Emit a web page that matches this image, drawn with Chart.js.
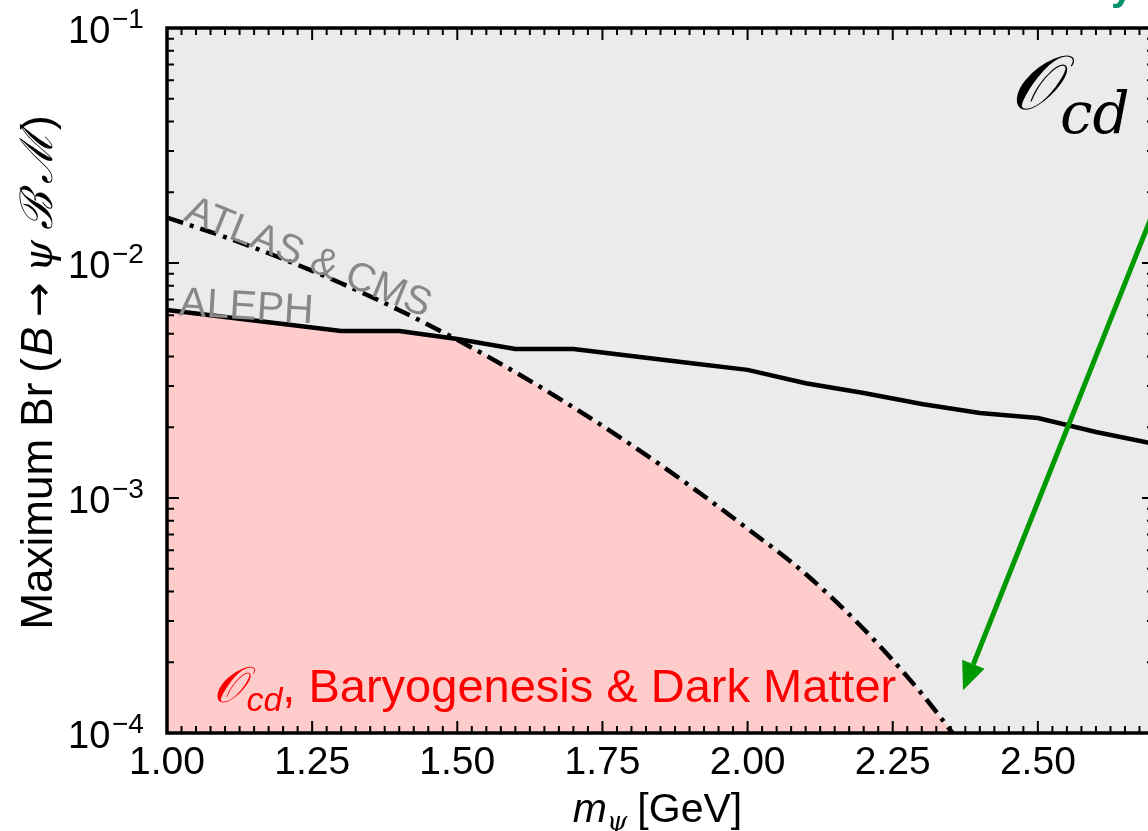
<!DOCTYPE html>
<html>
<head>
<meta charset="utf-8">
<script src="https://cdn.jsdelivr.net/npm/chart.js@4.4.1/dist/chart.umd.min.js"></script>
<style>
    html, body { margin: 0; padding: 0; background: #fff; overflow: hidden; }
    #wrap { width: 1148px; height: 831px; overflow: hidden; }
</style>
</head>
<body>
<div id="wrap"><canvas id="chart" width="1160" height="831"></canvas></div>
<script>
// ALEPH bound (solid line)
const alephMass = [1.0, 1.1, 1.2, 1.3, 1.4, 1.5, 1.6, 1.7, 1.8, 1.9, 2.0, 2.1, 2.2, 2.3, 2.4, 2.5, 2.6, 2.7];
const alephBr = [6.31e-3, 5.89e-3, 5.50e-3, 5.14e-3, 5.14e-3, 4.75e-3, 4.31e-3, 4.31e-3, 4.02e-3,
                 3.75e-3, 3.51e-3, 3.08e-3, 2.80e-3, 2.51e-3, 2.30e-3, 2.19e-3, 1.91e-3, 1.70e-3];

// ATLAS & CMS bound (dash-dot line)
const lhcMass = [1.0, 1.1, 1.2, 1.3, 1.4, 1.5, 1.6, 1.7, 1.8, 1.9, 2.0, 2.1, 2.2, 2.3, 2.353];
const lhcBr = [1.56e-2, 1.29e-2, 1.04e-2, 8.2e-3, 6.3e-3, 4.71e-3, 3.43e-3, 2.43e-3, 1.68e-3,
               1.13e-3, 7.4e-4, 4.75e-4, 2.77e-4, 1.47e-4, 1.0e-4];

// axes
const xTicks = [1.00, 1.25, 1.50, 1.75, 2.00, 2.25, 2.50];
const xTickLabels = ['1.00', '1.25', '1.50', '1.75', '2.00', '2.25', '2.50'];
const yTickExps = [-1, -2, -3, -4];
const yTickLabels = ['\u22121', '\u22122', '\u22123', '\u22124'];

// green arrow (data coords)
const arrowFrom = [2.8, 7.0e-2];
const arrowTo = [2.371, 1.52e-4];

const SANS = '"Liberation Sans", Arial, sans-serif';
const SERIF = '"DejaVu Serif", "Liberation Serif", serif';
const BG = '#ebebeb';

function pts(xs, ys) {
    return xs.map((x, i) => ({ x: x, y: ys[i] }));
}

function drawRich(ctx, parts, x, y) {
    let cx = x;
    parts.forEach(p => {
        ctx.font = p.font;
        ctx.fillText(p.t, cx, y + (p.dy || 0));
        cx += ctx.measureText(p.t).width + (p.gap || 0);
    });
    return cx - x;
}

function richWidth(ctx, parts) {
    let w = 0;
    parts.forEach(p => {
        ctx.font = p.font;
        w += ctx.measureText(p.t).width + (p.gap || 0);
    });
    return w;
}

const decor = {
    id: 'decor',
    beforeDraw(chart) {
        const { ctx, chartArea: a } = chart;
        ctx.save();
        ctx.fillStyle = '#fff';
        ctx.fillRect(0, 0, chart.width, chart.height);
        ctx.fillStyle = BG;
        ctx.fillRect(a.left, a.top, a.right - a.left, a.bottom - a.top);
        ctx.restore();
    },
    afterDatasetsDraw(chart) {
        const { ctx } = chart;
        const sx = chart.scales.x, sy = chart.scales.y;
        ctx.save();

        // annotations
        ctx.fillStyle = '#888';
        ctx.textBaseline = 'alphabetic';
        ctx.save();
        ctx.translate(sx.getPixelForValue(1.027), sy.getPixelForValue(1.53e-2));
        ctx.rotate(22 * Math.PI / 180);
        ctx.font = '40px ' + SANS;
        ctx.fillText('ATLAS & CMS', 0, 0);
        ctx.restore();

        ctx.save();
        ctx.translate(sx.getPixelForValue(1.020), sy.getPixelForValue(6.0e-3));
        ctx.rotate(3.5 * Math.PI / 180);
        ctx.font = '41px ' + SANS;
        ctx.fillText('ALEPH', 0, 0);
        ctx.restore();

        ctx.fillStyle = '#ff0000';
        drawRich(ctx, [
            { t: '\u{1D4AA}', font: 'italic 50px ' + SERIF, gap: 2 },
            { t: 'cd', font: 'italic 34px ' + SANS, dy: 9 },
            { t: ', Baryogenesis & Dark Matter', font: '47px ' + SANS }
        ], sx.getPixelForValue(1.08), sy.getPixelForValue(1.36e-4));

        ctx.fillStyle = '#000';
        drawRich(ctx, [
            { t: '\u{1D4AA}', font: 'italic 76px ' + SERIF, gap: 2 },
            { t: 'cd', font: 'italic 58px ' + SERIF, dy: 24 }
        ], sx.getPixelForValue(2.452), sy.getPixelForValue(4.5e-2));

        // arrow
        const x0 = sx.getPixelForValue(arrowFrom[0]), y0 = sy.getPixelForValue(arrowFrom[1]);
        const x1 = sx.getPixelForValue(arrowTo[0]), y1 = sy.getPixelForValue(arrowTo[1]);
        const ang = Math.atan2(y1 - y0, x1 - x0);
        const hl = 28, hw = 12;
        const bx = x1 - hl * Math.cos(ang), by = y1 - hl * Math.sin(ang);
        ctx.strokeStyle = '#009900';
        ctx.fillStyle = '#009900';
        ctx.lineWidth = 5;
        ctx.beginPath();
        ctx.moveTo(x0, y0);
        ctx.lineTo(bx, by);
        ctx.stroke();
        ctx.beginPath();
        ctx.moveTo(x1, y1);
        ctx.lineTo(bx + hw * Math.sin(ang), by - hw * Math.cos(ang));
        ctx.lineTo(bx - hw * Math.sin(ang), by + hw * Math.cos(ang));
        ctx.closePath();
        ctx.fill();

        ctx.restore();
    },
    afterDraw(chart) {
        const { ctx, chartArea: a } = chart;
        const sx = chart.scales.x, sy = chart.scales.y;
        ctx.save();
        ctx.strokeStyle = '#000';
        ctx.lineWidth = 2;

        // x ticks (inward, top and bottom)
        for (let i = 0; i <= 70; i++) {
            const v = 1 + i * 0.025;
            if (v > 2.7 + 1e-9) break;
            const p = sx.getPixelForValue(v);
            const len = i % 10 === 0 ? 12 : 7;
            ctx.beginPath();
            ctx.moveTo(p, a.bottom); ctx.lineTo(p, a.bottom - len);
            ctx.moveTo(p, a.top); ctx.lineTo(p, a.top + len);
            ctx.stroke();
        }
        // y ticks (inward, left and right)
        for (let d = -4; d <= -1; d++) {
            for (let k = 1; k <= 9; k++) {
                const v = k * Math.pow(10, d);
                if (v > 0.1 * 1.0001) break;
                const p = sy.getPixelForValue(v);
                const len = k === 1 ? 12 : 7;
                ctx.beginPath();
                ctx.moveTo(a.left, p); ctx.lineTo(a.left + len, p);
                ctx.moveTo(a.right, p); ctx.lineTo(a.right - len, p);
                ctx.stroke();
            }
        }

        // frame
        ctx.lineWidth = 3.5;
        ctx.strokeRect(a.left, a.top, a.right - a.left, a.bottom - a.top);

        // tick labels
        ctx.fillStyle = '#000';
        ctx.textBaseline = 'alphabetic';
        ctx.font = '39px ' + SANS;
        ctx.textAlign = 'center';
        xTicks.forEach((v, i) => {
            ctx.fillText(xTickLabels[i], sx.getPixelForValue(v), a.bottom + 41);
        });
        ctx.textAlign = 'left';
        yTickExps.forEach((e, i) => {
            const p = sy.getPixelForValue(Math.pow(10, e));
            ctx.font = '38px ' + SANS;
            ctx.fillText('10', 68, p + 15);
            ctx.font = '28px ' + SANS;
            ctx.fillText(yTickLabels[i], 112, p);
        });

        // x title
        const xParts = [
            { t: 'm', font: 'italic 41px ' + SANS },
            { t: '\u03C8', font: 'italic 26px ' + SERIF, dy: 8, gap: 10 },
            { t: '[GeV]', font: '41px ' + SANS }
        ];
        const xw = richWidth(ctx, xParts);
        drawRich(ctx, xParts, (a.left + a.right) / 2 - 3 - xw / 2, 822);

        // y title
        const yParts = [
            { t: 'Maximum Br', font: '44px ' + SANS, gap: 10 },
            { t: '(', font: '44px ' + SANS, gap: 2 },
            { t: 'B', font: 'italic 44px ' + SANS, gap: 10 },
            { t: '\u2192', font: '41px "DejaVu Sans"', gap: 10 },
            { t: '\u03C8', font: 'italic 41px ' + SERIF, gap: 10 },
            { t: '\u212C', font: 'italic 45px ' + SERIF, gap: 8 },
            { t: '\u2133', font: 'italic 45px ' + SERIF, gap: 2 },
            { t: ')', font: '44px ' + SANS }
        ];
        const yw = richWidth(ctx, yParts);
        ctx.save();
        ctx.translate(52, (a.top + a.bottom) / 2 - 8);
        ctx.rotate(-Math.PI / 2);
        drawRich(ctx, yParts, -yw / 2, 0);
        ctx.restore();

        // cropped title fragment at top right
        ctx.fillStyle = '#00926c';
        ctx.font = 'bold 40px ' + SANS;
        ctx.fillText('y', 1111, 0);

        ctx.restore();
    }
};

new Chart(document.getElementById('chart'), {
    type: 'line',
    data: {
        datasets: [
            {
                label: 'ALEPH',
                data: pts(alephMass, alephBr),
                borderColor: '#000',
                borderWidth: 4.5,
                pointRadius: 0,
                fill: 'end',
                backgroundColor: BG,
                tension: 0
            },
            {
                label: 'ATLAS & CMS',
                data: pts(lhcMass, lhcBr),
                borderColor: '#000',
                borderWidth: 4.5,
                borderDash: [17, 7, 4, 7],
                pointRadius: 0,
                fill: 'start',
                backgroundColor: '#ffcccc',
                cubicInterpolationMode: 'monotone'
            }
        ]
    },
    options: {
        responsive: false,
        animation: false,
        devicePixelRatio: 1,
        layout: { padding: { left: 167, top: 28, right: 6, bottom: 98 } },
        scales: {
            x: { type: 'linear', min: 1.0, max: 2.7, display: false },
            y: { type: 'logarithmic', min: 1e-4, max: 1e-1, display: false }
        },
        plugins: {
            legend: { display: false },
            tooltip: { enabled: false },
            filler: { drawTime: 'beforeDatasetsDraw' }
        }
    },
    plugins: [decor]
});
</script>
</body>
</html>
